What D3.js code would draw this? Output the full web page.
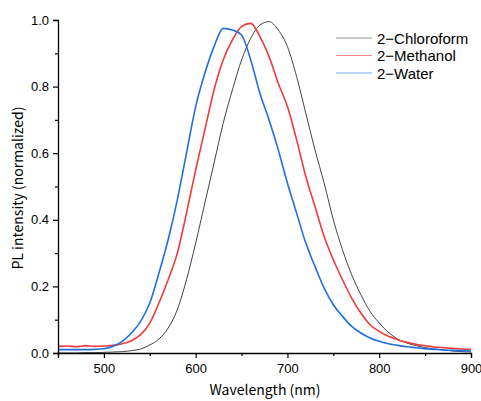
<!DOCTYPE html>
<html><head><meta charset="utf-8">
<script src="https://cdn.jsdelivr.net/npm/d3@7"></script>
<style>
html,body{margin:0;padding:0;background:#fff;}
svg{display:block;}
</style></head>
<body>
<svg id="chart" width="481" height="401"></svg>
<script>
const wavelengths = d3.range(450, 901, 10);
const chloroform = [0.000,0.000,0.000,0.001,0.001,0.002,0.003,0.004,0.007,0.012,0.024,0.042,0.075,0.13,0.22,0.33,0.45,0.57,0.69,0.79,0.88,0.945,0.985,0.995,0.97,0.92,0.83,0.72,0.61,0.51,0.40,0.31,0.235,0.175,0.125,0.09,0.062,0.042,0.03,0.022,0.016,0.012,0.009,0.006,0.004,0.003];
const methanol = [0.020,0.021,0.019,0.022,0.020,0.021,0.023,0.028,0.037,0.055,0.09,0.15,0.22,0.30,0.42,0.55,0.67,0.79,0.88,0.94,0.98,0.99,0.95,0.89,0.81,0.74,0.64,0.53,0.44,0.35,0.28,0.22,0.165,0.12,0.085,0.065,0.05,0.04,0.032,0.026,0.022,0.018,0.016,0.014,0.012,0.011];
const water = [0.010,0.010,0.010,0.010,0.011,0.013,0.020,0.035,0.060,0.095,0.15,0.24,0.34,0.46,0.60,0.74,0.84,0.92,0.975,0.97,0.955,0.88,0.78,0.70,0.61,0.51,0.42,0.33,0.26,0.195,0.145,0.11,0.08,0.06,0.045,0.035,0.028,0.023,0.019,0.016,0.013,0.011,0.009,0.008,0.007,0.006];
const seriesNames = ["2\u2212Chloroform","2\u2212Methanol","2\u2212Water"];
const seriesColors = ["#444444","#f03a3a","#1f6fe0"];
const xMajor = [500,600,700,800,900];
const xMinor = [450,550,650,750,850];
const yMajor = [0.0,0.2,0.4,0.6,0.8,1.0];
const yMinor = [0.1,0.3,0.5,0.7,0.9];

const svg = d3.select("#chart");
const x = d3.scaleLinear().domain([450,900]).range([58,471]);
const y = d3.scaleLinear().domain([0,1]).range([353,20]);

const allSeries = [chloroform, methanol, water];
const line = d3.line().x((d,i)=>x(wavelengths[i])).y(d=>y(d)).curve(d3.curveMonotoneX);

svg.append("clipPath").attr("id","clip").append("rect")
  .attr("x",58).attr("y",14).attr("width",414).attr("height",340);
const g = svg.append("g").attr("clip-path","url(#clip)");
[0,1,2].forEach(k=>{
  g.append("path").datum(allSeries[k]).attr("d",line)
   .attr("fill","none").attr("stroke",seriesColors[k])
   .attr("stroke-width", k===0?1:1.6).attr("stroke-linejoin","round");
});

const tickFont = "'Liberation Sans', Arial, sans-serif";
svg.append("g").attr("transform","translate(0,353)")
  .call(d3.axisBottom(x).tickValues(xMajor).tickSize(5).tickPadding(6).tickFormat(d3.format("d")));
svg.append("g").attr("transform","translate(0,353)")
  .call(d3.axisBottom(x).tickValues(xMinor).tickSize(3).tickFormat(""))
  .select(".domain").remove();
svg.append("g").attr("transform","translate(58,0)")
  .call(d3.axisLeft(y).tickValues(yMajor).tickSize(5).tickPadding(4).tickFormat(d3.format(".1f")));
svg.append("g").attr("transform","translate(58,0)")
  .call(d3.axisLeft(y).tickValues(yMinor).tickSize(3).tickFormat(""))
  .select(".domain").remove();
svg.selectAll(".domain").attr("stroke","#000").attr("stroke-width",1.3);
svg.selectAll(".tick line").attr("stroke","#000").attr("stroke-width",1.2);
svg.selectAll(".tick text").attr("font-family",tickFont).attr("font-size",13).attr("fill","#000");

const titleFont = "'Noto Sans CJK JP', 'Noto Sans', sans-serif";
svg.append("text").attr("x",265).attr("y",395).attr("text-anchor","middle")
  .attr("font-family",titleFont).attr("font-size",14).attr("fill","#000").text("Wavelength (nm)");
svg.append("text").attr("transform","translate(23,188) rotate(-90)").attr("text-anchor","middle")
  .attr("font-family",titleFont).attr("font-size",14).attr("fill","#000").text("PL intensity (normalized)");

const legFont = "'Liberation Sans', Arial, sans-serif";
const leg = svg.append("g");
seriesNames.forEach((name,k)=>{
  const yy = 38 + k*17.5;
  leg.append("line").attr("x1",336).attr("x2",372).attr("y1",yy).attr("y2",yy)
    .attr("stroke",seriesColors[k]).attr("stroke-width",1).attr("opacity",0.6);
  leg.append("text").attr("x",377).attr("y",yy+5.5).attr("font-family",legFont)
    .attr("font-size",15).attr("fill","#000").text(name);
});
</script>
</body></html>
